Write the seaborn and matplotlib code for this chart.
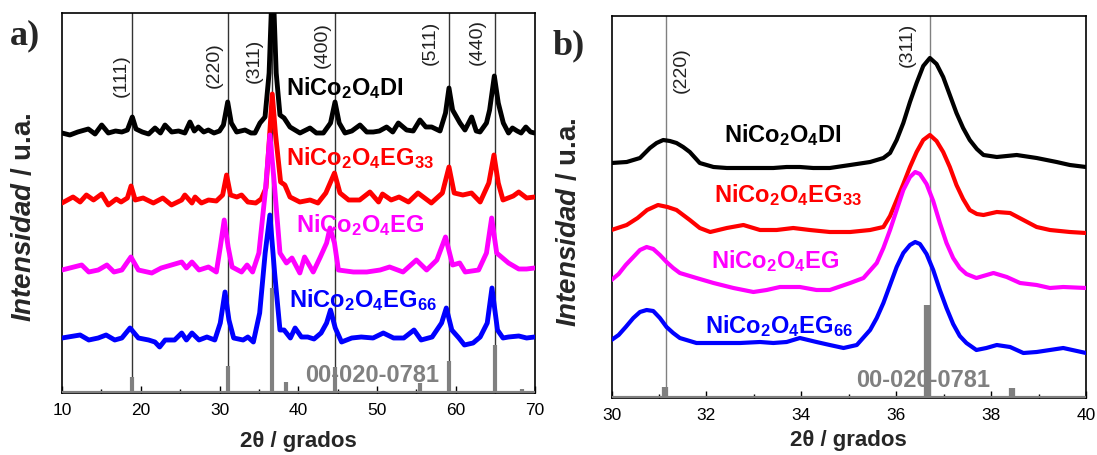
import numpy as np
import matplotlib
matplotlib.use('Agg')
import matplotlib.pyplot as plt
import seaborn as sns

# === Panel a) full pattern 10-70 deg (intensity in arbitrary units) ===
a_di_x = [10.0, 11.0, 12.0, 13.34, 14.2, 15.04, 15.88, 16.8, 17.6, 18.3, 18.93, 19.4, 20.2, 21.0, 21.81,
          22.5, 23.08, 23.93, 24.8, 25.6, 26.25, 26.8, 27.31, 28.0, 28.58, 29.3, 30.0, 30.5, 31.04, 31.5,
          32.18, 33.24, 34.0, 34.5, 35.14, 35.78, 36.3, 36.75, 37.2, 37.68, 38.2, 38.95, 40.22, 41.49,
          42.3, 43.19, 44.1, 44.67, 45.2, 45.94, 46.8, 47.84, 48.7, 49.53, 50.3, 51.22, 52.0, 52.71,
          53.76, 54.6, 55.45, 56.2, 56.94, 58.0, 58.7, 59.14, 59.6, 60.54, 61.17, 62.02, 62.6, 63.08,
          63.9, 64.3, 64.9, 65.4, 66.04, 66.7, 67.2, 67.8, 68.3, 68.9, 69.5, 70.0]
a_di_y = [260, 258, 261, 264, 259, 268, 260, 262, 261, 263, 276, 264, 261, 259, 265,
          260, 268, 261, 262, 260, 271, 262, 266, 261, 263, 260, 262, 268, 291, 270,
          261, 263, 260, 260, 270, 276, 320, 420, 320, 278, 275, 266, 260, 265,
          260, 260, 270, 291, 270, 260, 262, 268, 261, 261, 262, 266, 261, 270,
          263, 262, 273, 266, 266, 262, 280, 305, 283, 270, 263, 276, 262, 261,
          270, 283, 317, 290, 270, 260, 265, 262, 260, 266, 261, 260]

a_eg33_x = [10.0, 11.4, 12.3, 13.1, 14.0, 15.04, 15.88, 16.9, 17.5, 18.3, 18.77, 19.3, 20.3, 21.6, 22.8,
            23.9, 25.2, 25.6, 26.5, 26.9, 27.7, 28.6, 29.6, 30.4, 30.9, 31.4, 32.2, 32.8, 33.6, 34.6,
            35.3, 35.9, 36.3, 36.7, 37.1, 37.76, 38.3, 38.95, 40.2, 41.5, 42.5, 43.5, 44.6, 45.3, 46.4,
            47.8, 49.1, 50.2, 50.7, 51.8, 52.8, 54.0, 55.2, 56.9, 58.3, 59.14, 59.8, 60.9, 62.0, 63.1,
            64.2, 64.85, 65.4, 66.0, 67.3, 68.0, 69.0, 70.0]
a_eg33_y = [190, 196, 191, 198, 193, 199, 188, 194, 191, 195, 207, 193, 195, 190, 195,
            188, 193, 198, 190, 196, 190, 193, 192, 198, 218, 198, 196, 198, 191, 190,
            194, 205, 250, 299, 260, 211, 208, 196, 191, 193, 190, 200, 220, 200, 193,
            193, 201, 191, 199, 193, 196, 191, 200, 190, 200, 226, 200, 198, 200, 191,
            210, 238, 210, 193, 197, 201, 195, 196]

a_eg_x = [10.0, 12.5, 13.4, 14.6, 15.7, 16.6, 17.6, 18.75, 19.7, 21.4, 22.6, 23.9, 25.2, 25.8, 26.5,
          27.4, 28.6, 29.6, 30.1, 30.6, 31.1, 31.6, 32.8, 33.5, 34.2, 35.0, 35.8, 36.4, 36.9, 37.68,
          38.5, 39.2, 40.2, 40.8, 41.9, 42.8, 43.6, 44.03, 44.6, 45.1, 47.0, 48.7, 50.4, 51.6, 53.3,
          55.0, 56.3, 57.6, 58.7, 59.6, 60.5, 61.2, 62.9, 63.9, 64.56, 65.2, 66.7, 68.0, 69.0, 70.0]
a_eg_y = [123, 128, 121, 123, 128, 121, 123, 136, 123, 120, 125, 128, 131, 125, 131,
          123, 126, 121, 146, 173, 146, 126, 121, 128, 121, 140, 200, 258, 215, 140,
          130, 135, 120, 136, 121, 136, 150, 165, 150, 123, 121, 121, 123, 126, 121,
          133, 123, 133, 156, 128, 130, 121, 123, 140, 175, 140, 130, 124, 124, 125]

a_eg66_x = [10.0, 12.3, 13.4, 14.6, 15.6, 16.7, 17.6, 18.64, 19.7, 21.0, 21.8, 22.4, 23.1, 24.3, 25.2,
            25.8, 26.5, 27.4, 28.4, 29.4, 30.1, 30.7, 31.2, 31.8, 33.0, 33.6, 34.3, 35.1, 35.8, 36.4,
            37.0, 37.68, 38.2, 39.0, 39.6, 40.4, 41.2, 42.0, 42.9, 43.6, 44.1, 44.7, 45.5, 46.8, 48.0,
            49.5, 50.8, 52.1, 53.4, 54.7, 55.6, 57.0, 58.2, 58.8, 59.5, 60.4, 61.1, 62.2, 63.1, 64.0,
            64.6, 65.3, 66.0, 66.7, 68.0, 69.0, 70.0]
a_eg66_y = [55, 58, 53, 55, 58, 53, 55, 65, 55, 53, 51, 46, 53, 53, 60,
            53, 60, 53, 56, 53, 70, 101, 73, 55, 53, 56, 51, 80, 140, 178,
            120, 63, 63, 55, 65, 56, 56, 54, 60, 70, 83, 65, 51, 55, 56,
            55, 60, 55, 55, 63, 53, 56, 70, 85, 63, 55, 48, 50, 56, 70,
            105, 63, 55, 56, 57, 55, 56]

# reference card 00-020-0781
a_ref_pos = [18.92, 31.12, 36.64, 38.43, 44.66, 55.45, 59.14, 64.93, 68.36]
a_ref_int = [16, 27, 105, 11, 26, 10, 32, 48, 4]
a_hkl_pos = [18.92, 31.12, 36.64, 44.66, 59.14, 64.93]
a_hkl = ['(111)', '(220)', '(311)', '(400)', '(511)', '(440)']
a_hkl_lab_x = [17.49, 29.3, 34.42, 43.1, 56.82, 62.79]
a_hkl_lab_y = [296, 305, 310, 325, 328, 328]

# === Panel b) zoom 30-40 deg ===
b_di_x = [30.0, 30.32, 30.6, 30.81, 30.95, 31.09, 31.23, 31.37, 31.51, 31.65, 31.86, 32.15, 32.43,
          32.71, 33.06, 33.41, 33.69, 33.97, 34.25, 34.6, 35.03, 35.45, 35.73, 35.87, 36.01, 36.15,
          36.29, 36.43, 36.57, 36.71, 36.85, 36.99, 37.13, 37.27, 37.41, 37.55, 37.7, 37.84, 38.12,
          38.54, 38.96, 39.38, 39.66, 40.0]
b_di_y = [235, 236, 240, 250, 255, 258, 257, 255, 251, 246, 235, 231, 230,
          230, 230, 230, 231, 231, 230, 230, 233, 236, 240, 245, 258, 275,
          296, 315, 332, 340, 334, 321, 303, 285, 270, 258, 249, 243, 241,
          243, 240, 236, 233, 231]

b_eg33_x = [30.0, 30.32, 30.55, 30.75, 30.98, 31.18, 31.37, 31.51, 31.65, 31.86, 32.08, 32.43, 32.78,
            33.13, 33.48, 33.83, 34.18, 34.6, 35.03, 35.45, 35.73, 35.87, 36.01, 36.15, 36.29, 36.43,
            36.57, 36.71, 36.85, 36.99, 37.13, 37.27, 37.41, 37.55, 37.7, 37.84, 38.12, 38.4, 38.68,
            38.96, 39.24, 39.66, 40.0]
b_eg33_y = [168, 173, 180, 188, 193, 191, 188, 183, 178, 170, 166, 170, 173,
            168, 168, 170, 168, 166, 166, 168, 171, 182, 198, 214, 231, 246,
            258, 263, 257, 246, 231, 213, 199, 188, 184, 183, 186, 185, 178,
            171, 168, 166, 165]

b_eg_x = [30.0, 30.15, 30.3, 30.46, 30.6, 30.74, 30.88, 31.02, 31.16, 31.3, 31.44, 31.79, 32.15,
          32.57, 32.99, 33.27, 33.55, 33.97, 34.32, 34.6, 35.03, 35.31, 35.59, 35.73, 35.87, 36.01,
          36.15, 36.29, 36.4, 36.5, 36.64, 36.78, 36.92, 37.06, 37.2, 37.34, 37.48, 37.69, 38.05,
          38.33, 38.61, 38.96, 39.24, 39.52, 40.0]
b_eg_y = [118, 124, 133, 141, 148, 151, 149, 143, 136, 130, 125, 120, 115,
          110, 106, 108, 111, 111, 108, 108, 115, 120, 135, 150, 168, 188,
          208, 221, 226, 224, 214, 197, 175, 155, 140, 130, 124, 120, 125,
          121, 115, 113, 110, 111, 110]

b_eg66_x = [30.0, 30.15, 30.3, 30.46, 30.6, 30.74, 30.88, 31.02, 31.16, 31.3, 31.44, 31.79, 32.22,
            32.71, 33.13, 33.41, 33.69, 33.97, 34.32, 34.6, 34.89, 35.17, 35.45, 35.59, 35.73, 35.87,
            36.01, 36.15, 36.29, 36.4, 36.5, 36.64, 36.78, 36.92, 37.06, 37.2, 37.34, 37.48, 37.69,
            37.9, 38.12, 38.4, 38.68, 38.96, 39.24, 39.52, 40.0]
b_eg66_y = [58, 63, 71, 80, 86, 88, 87, 80, 71, 65, 60, 55, 55,
            55, 56, 55, 56, 60, 56, 53, 50, 53, 68, 80, 95, 113,
            131, 145, 153, 156, 154, 144, 128, 108, 90, 74, 62, 55, 48,
            50, 53, 51, 45, 46, 48, 50, 45]

b_ref_pos = [31.12, 36.65, 38.43]
b_ref_int = [11, 93, 10]
b_hkl_pos = [31.15, 36.71]
b_hkl = ['(220)', '(311)']
b_hkl_lab_x = [31.48, 36.24]
b_hkl_lab_y = [305, 331]

names = [r'NiCo$_2$O$_4$DI', r'NiCo$_2$O$_4$EG$_{33}$', r'NiCo$_2$O$_4$EG', r'NiCo$_2$O$_4$EG$_{66}$']
colors = ['#000000', '#ff0000', '#ff00ff', '#0000ff']
a_lab_x = [38.43, 38.43, 39.68, 38.79]
a_lab_y = [298, 228, 161, 86]
b_lab_x = [32.38, 32.16, 32.09, 31.97]
b_lab_y = [256, 196, 130, 65]

# === Style ===
sns.set_theme(style='ticks')
plt.rcParams['font.family'] = ['Liberation Sans', 'DejaVu Sans']
plt.rcParams['mathtext.fontset'] = 'custom'
plt.rcParams['mathtext.rm'] = 'Liberation Sans:bold'
plt.rcParams['mathtext.bf'] = 'Liberation Sans:bold'
plt.rcParams['mathtext.it'] = 'Liberation Sans:italic:bold'
plt.rcParams['mathtext.default'] = 'bf'

fig = plt.figure(figsize=(10.97, 4.55), dpi=100)
ax_a = fig.add_axes([62 / 1097, 62 / 455, 472.5 / 1097, 380 / 455])
ax_b = fig.add_axes([611.5 / 1097, 57 / 455, 474.5 / 1097, 382 / 455])

grey = '#808080'


def draw_panel(ax, series, ref_pos, ref_int, hkl_pos, hkl, hkl_x, hkl_y, lab_x, lab_y,
               xlim, ylim, major, minor, lw, ref_lw, line_col, card_x, card_y):
    for xv in hkl_pos:
        ax.axvline(xv, color=line_col, lw=1.0, zorder=1)
    ax.vlines(ref_pos, 0, ref_int, color=grey, lw=ref_lw, zorder=3)
    ax.axhline(0, color=grey, lw=3, zorder=3)
    for (xs, ys), c in zip(series, colors):
        sns.lineplot(x=xs, y=ys, ax=ax, color=c, lw=lw, sort=False, estimator=None, zorder=4)
    for t, xv, yv in zip(hkl, hkl_x, hkl_y):
        ax.text(xv, yv, t, rotation=90, ha='center', va='bottom', fontsize=14, color='#222222')
    for n, c, xv, yv in zip(names, colors, lab_x, lab_y):
        ax.text(xv, yv, n, color=c, fontsize=17, fontweight='bold', ha='left', va='baseline', zorder=5)
    ax.text(card_x, card_y, '00-020-0781', color=grey, fontsize=17, fontweight='bold',
            ha='left', va='baseline', zorder=2)
    ax.set_xlim(*xlim)
    ax.set_ylim(*ylim)
    ax.set_xticks(major)
    ax.set_xticks(minor, minor=True)
    ax.set_yticks([])
    ax.tick_params(axis='x', which='both', direction='in', labelsize=12.5, pad=7, colors='black')
    ax.tick_params(axis='x', which='major', length=5, width=1)
    ax.tick_params(axis='x', which='minor', length=3, width=1)
    for s in ax.spines.values():
        s.set_color('black')
        s.set_linewidth(1.2)
    ax.set_xlabel('2θ / grados', fontsize=16, fontweight='bold')
    ax.set_ylabel(r'$\mathit{Intensidad}$ / u.a.', fontsize=20, fontweight='bold')


series_a = [(a_di_x, a_di_y), (a_eg33_x, a_eg33_y), (a_eg_x, a_eg_y), (a_eg66_x, a_eg66_y)]
series_b = [(b_di_x, b_di_y), (b_eg33_x, b_eg33_y), (b_eg_x, b_eg_y), (b_eg66_x, b_eg66_y)]

draw_panel(ax_a, series_a, a_ref_pos, a_ref_int, a_hkl_pos, a_hkl, a_hkl_lab_x, a_hkl_lab_y,
           a_lab_x, a_lab_y, (10, 70), (0, 380), range(10, 71, 10), range(15, 70, 10),
           3.5, 3, '#333333', 40.86, 11)
draw_panel(ax_b, series_b, b_ref_pos, b_ref_int, b_hkl_pos, b_hkl, b_hkl_lab_x, b_hkl_lab_y,
           b_lab_x, b_lab_y, (30, 40), (0, 382), range(30, 41, 2), range(31, 40, 2),
           3.0, 4.5, grey, 35.15, 11)

ax_a.yaxis.set_label_coords(-0.053, 0.463)
ax_b.yaxis.set_label_coords(-0.062, 0.46)
ax_a.xaxis.set_label_coords(0.5, -0.1)
ax_b.xaxis.set_label_coords(0.5, -0.083)

fig.text(10 / 1097, 1 - 44 / 455, 'a)', fontsize=26, fontweight='bold', family='Liberation Serif')
fig.text(553 / 1097, 1 - 54 / 455, 'b)', fontsize=26, fontweight='bold', family='Liberation Serif')

fig.savefig('out.png', dpi=100)
